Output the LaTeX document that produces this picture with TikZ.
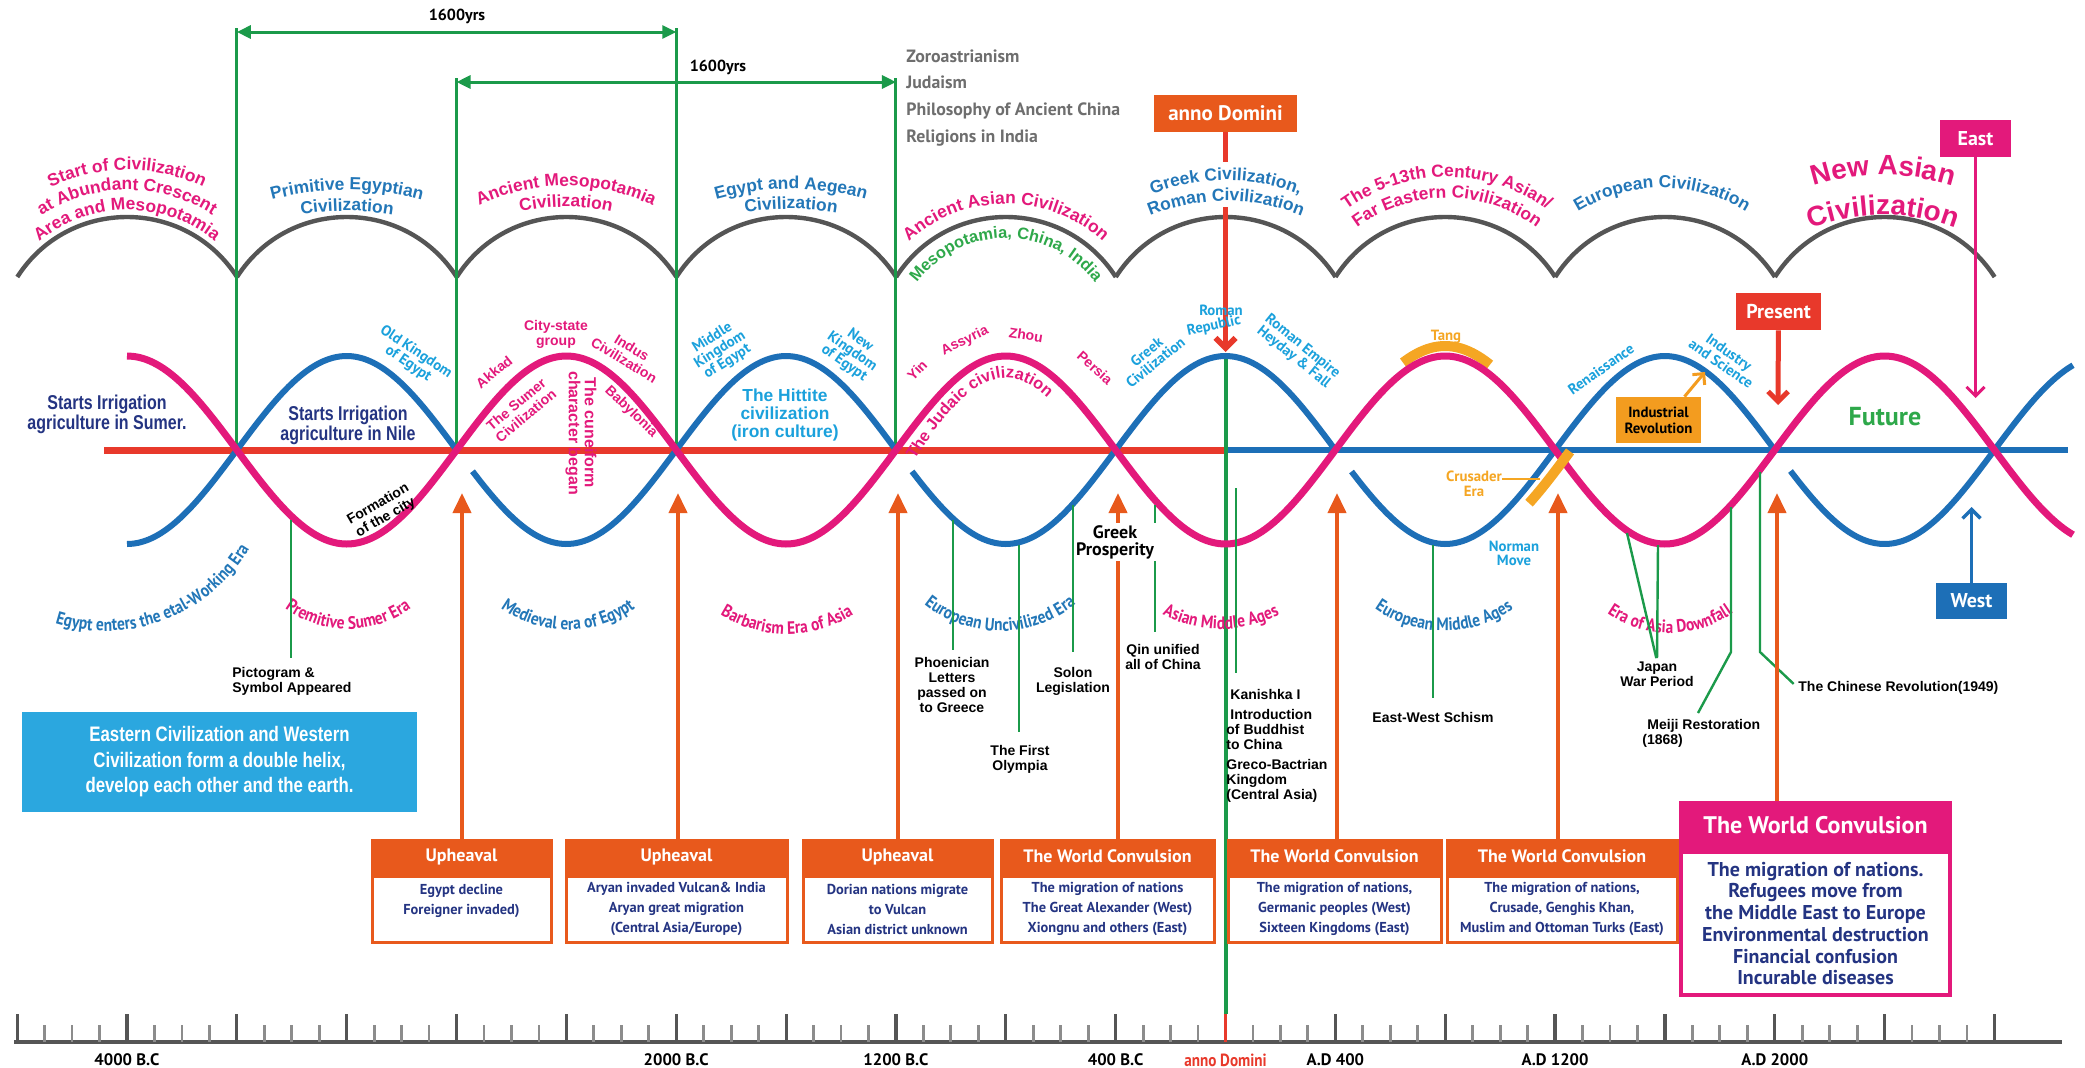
\documentclass[tikz,border=0pt]{standalone}
\usepackage{fontspec}
\setmainfont{Liberation Sans}
\newfontfamily\myr{PT Sans}
\newfontfamily\myrc[FakeStretch=0.86]{PT Sans}
\newfontfamily\narrow[FakeStretch=0.8]{Liberation Sans}
\usetikzlibrary{positioning, arrows.meta, decorations.text}

\definecolor{hpink}{HTML}{E3197B}
\definecolor{hblue}{HTML}{1D6FB7}
\definecolor{civblue}{HTML}{2377B8}
\definecolor{cyanlbl}{HTML}{1BA1DC}
\definecolor{axred}{HTML}{E8392B}
\definecolor{archgray}{HTML}{555555}
\definecolor{lgreen}{HTML}{1B9A4A}
\definecolor{mgreen}{HTML}{2EA84A}
\definecolor{navy}{HTML}{243482}
\definecolor{boxorange}{HTML}{E8591C}
\definecolor{tang}{HTML}{F5A623}
\definecolor{indorange}{HTML}{F39C1F}
\definecolor{sky}{HTML}{2BA7DF}
\definecolor{listgray}{HTML}{6E6E6E}
\definecolor{rulegray}{HTML}{555555}
\definecolor{ticklight}{HTML}{8C8C8C}

\newcommand{\civfont}{\fontsize{8.7}{10}\selectfont\bfseries}
\newcommand{\erafont}{\myrc\fontsize{9}{10}\selectfont\bfseries}

% curved label over an arch: colour, font, x, apex y, radius, text
\newcommand{\overarc}[6]{%
  \path[decorate, decoration={text along path, text align=center,
      text color=#1, text={|#2|#6}}]
    (#3,{#4-#5}) ++(170:#5) arc[start angle=170, end angle=10, radius=#5];}
% curved label below the helix
\newcommand{\underarc}[6]{%
  \path[decorate, decoration={text along path, text align=center,
      text color=#1, text={|#2|#6}}]
    (#3,{#4+#5}) ++(195:#5) arc[start angle=195, end angle=345, radius=#5];}

\begin{document}
\begin{tikzpicture}[x=0.5pt, y=0.5pt,
    declare function={hp(\q)=-450+94*cos((\q-127)*0.8193);
                      hb(\q)=-450-94*cos((\q-127)*0.8193);},
    arch/.style={draw=archgray, line width=2.2pt},
    spanline/.style={draw=lgreen, line width=1.5pt},
    spanarrow/.style={draw=lgreen, line width=1.5pt,
        {Triangle[width=6.5pt,length=7pt]}-{Triangle[width=6.5pt,length=7pt]}},
    yrs/.style={font=\myr\fontsize{8}{9}\selectfont\bfseries, inner sep=0pt},
    faith/.style={text=listgray, font=\myr\fontsize{8.9}{13.35}\selectfont\bfseries,
        align=left, inner sep=0pt},
    tagbox/.style={text=white, font=\myr\fontsize{10}{11}\selectfont\bfseries,
        minimum height=18.5pt, inner sep=0pt},
    adline/.style={draw=axred, line width=2.9pt},
    pointer/.style={-{Straight Barb[length=5pt,width=10pt]}},
    axisred/.style={draw=axred, line width=3.5pt},
    axisblue/.style={draw=hblue, line width=3pt},
    adgreen/.style={draw=lgreen, line width=2pt},
    pinkhelix/.style={draw=hpink, line width=3.5pt},
    bluehelix/.style={draw=hblue, line width=3pt},
    band/.style={draw=tang, line width=5pt},
    irrig/.style={text=navy, font=\narrow\fontsize{10}{10}\selectfont\bfseries,
        align=center, inner sep=0pt},
    hittite/.style={text=cyanlbl, font=\fontsize{8.7}{9}\selectfont\bfseries,
        align=center, inner sep=0pt},
    lblpink/.style={text=hpink, font=\fontsize{7}{7.5}\selectfont\bfseries,
        align=center, inner sep=0pt},
    lblcyan/.style={text=cyanlbl, font=\myr\fontsize{7.4}{7}\selectfont\bfseries,
        align=center, inner sep=0pt},
    lblorange/.style={text=tang, font=\myr\fontsize{7.4}{7.5}\selectfont\bfseries,
        align=center, inner sep=0pt},
    evlbl/.style={font=\fontsize{7}{7.5}\selectfont\bfseries, align=center, inner sep=0pt},
    evline/.style={draw=lgreen, line width=1.2pt},
    upheave/.style={draw=boxorange, line width=2pt, -{Triangle[width=9pt,length=10pt]}},
    hdbox/.style={fill=boxorange, draw=boxorange, line width=1.5pt, text=white,
        font=\myr\fontsize{9}{10}\selectfont\bfseries, minimum height=16.5pt, inner sep=0pt},
    bdbox/.style={draw=boxorange, fill=white, line width=1.5pt, text=navy, align=center,
        font=\myr\fontsize{7.2}{10}\selectfont\bfseries, minimum height=33pt, inner sep=0pt},
    hdpink/.style={fill=hpink, draw=hpink, line width=2pt, text=white,
        font=\myr\fontsize{12}{13}\selectfont\bfseries, minimum height=22.5pt, inner sep=0pt},
    bdpink/.style={draw=hpink, fill=white, line width=2pt, text=navy, align=center,
        font=\myr\fontsize{10}{10.85}\selectfont\bfseries, minimum height=71.5pt, inner sep=0pt},
    rulebase/.style={draw=rulegray, line width=2pt},
    majtick/.style={draw=rulegray, line width=1.6pt},
    mintick/.style={draw=ticklight, line width=1.4pt},
    yearlbl/.style={font=\myr\fontsize{8.3}{9}\selectfont\bfseries, inner sep=0pt}
  ]
  \fill[white] (0,0) rectangle (2085,-1067);
  \useasboundingbox (0,0) rectangle (2085,-1067);

  % Civilization arches
  \foreach \k in {0,...,8}
    \draw[arch] ({17.3+219.7*\k},-277) .. controls ({68.5+219.7*\k},-197)
      and ({185.5+219.7*\k},-197) .. ({237+219.7*\k},-277);

  % Helix crossings
  \foreach \k in {0,...,8}
    \coordinate (c\k) at ({236.85+219.7*\k},-450);

  % 1600 years spans
  \coordinate (gl1) at (236.85,-28);
  \coordinate (gl2) at (456.55,-78);
  \coordinate (gl3) at (676.25,-28);
  \coordinate (gl4) at (895.95,-78);
  \draw[spanline] (gl1) -- (c0);
  \draw[spanline] (gl2) -- (c1);
  \draw[spanline] (gl3) -- (c2);
  \draw[spanline] (gl4) -- (c3);
  \draw[spanarrow] ([yshift=-2pt]gl1) -- ([yshift=-2pt]gl3);
  \draw[spanarrow] ([yshift=-2pt]gl2) -- ([yshift=-2pt]gl4);
  \node[yrs] (span1) at (457,-16) {1600yrs};
  \node[yrs] (span2) at (718,-67) {1600yrs};
  \node[faith, anchor=north west] (faiths) at (906,-49)
    {Zoroastrianism\\Judaism\\Philosophy of Ancient China\\Religions in India};

  % anno Domini marker
  \node[tagbox, fill=boxorange, minimum width=71.5pt,
    font=\myr\fontsize{10.5}{11}\selectfont\bfseries] (adbox) at (1225.5,-113.5) {anno Domini};
  \coordinate (adgap1) at (1225.5,-162);
  \coordinate (adgap2) at (1225.5,-207);
  \coordinate (adpeak) at (1225.5,-352);
  \coordinate (adfoot) at (1225.5,-1014);
  \coordinate (adbase) at (1225.5,-1042);
  \draw[adline] (adbox) -- (adgap1);
  \draw[adline, pointer] (adgap2) -- (adpeak);

  % Main axis
  \coordinate (axstart) at (104,-450);
  \coordinate (adaxis) at (1225.5,-450);
  \coordinate (axend) at (2068,-450);
  \draw[axisred] (axstart) -- (adaxis);
  \draw[axisblue] (adaxis) -- (axend);
  \draw[adgreen] ([yshift=-2pt]adpeak) -- (adfoot);

  % Tang band
  \draw[band] plot[domain=1403:1490, samples=30, smooth] (\x,{hp(\x)+10});

  % Double helix
  \foreach \a/\b in {127/456.85, 472.5/895.95, 912/1335.65, 1351.5/1775.35, 1790.5/2073}
    \draw[bluehelix] plot[domain=\a:\b, samples=60, smooth] (\x,{hb(\x)});
  \draw[pinkhelix] plot[domain=127:2073, samples=320, smooth] (\x,{hp(\x)});

  % Crusader band
  \draw[band] plot[domain=1513:1554, samples=20, smooth] ({\x+16},{hb(\x)});
  \node[lblorange] (crusader) at (1474,-484) {Crusader\\Era};
  \coordinate (crusband) at (1540,-479);
  \draw[tang, line width=1.2pt] (crusader.east |- crusband) -- (crusband);

  % Civilization names
  \overarc{hpink}{\civfont}{127}{-170}{178}{Start of Civilization}
  \overarc{hpink}{\civfont}{127}{-190}{158}{at Abundant Crescent}
  \overarc{hpink}{\civfont}{127}{-210}{138}{Area and Mesopotamia}
  \overarc{civblue}{\civfont}{347}{-190}{290}{Primitive Egyptian}
  \overarc{civblue}{\civfont}{347}{-211}{280}{Civilization}
  \overarc{hpink}{\civfont}{566}{-186}{200}{Ancient Mesopotamia}
  \overarc{hpink}{\civfont}{566}{-207}{210}{Civilization}
  \overarc{civblue}{\civfont}{791}{-189}{280}{Egypt and Aegean}
  \overarc{civblue}{\civfont}{791}{-209}{280}{Civilization}
  \overarc{hpink}{\civfont}{1006}{-204}{144}{Ancient Asian Civilization}
  \overarc{mgreen}{\fontsize{8.2}{9}\selectfont\bfseries}{1006}{-238}{110}{Mesopotamia, China, India}
  \overarc{civblue}{\civfont}{1226}{-180}{195}{Greek Civilization,}
  \overarc{civblue}{\civfont}{1226}{-201}{200}{Roman Civilization}
  \overarc{hpink}{\civfont}{1447}{-177}{171}{The 5-13th Century Asian/}
  \overarc{hpink}{\civfont}{1447}{-198}{150}{Far Eastern Civilization}
  \overarc{civblue}{\civfont}{1662}{-188}{160}{European Civilization}
  \overarc{hpink}{\fontsize{14}{15}\selectfont\bfseries}{1883}{-175}{230}{New Asian}
  \overarc{hpink}{\fontsize{14}{15}\selectfont\bfseries}{1883}{-215}{200}{Civilization}

  % Labels along the helix
  \node[irrig] (irrsumer) at (107,-414) {Starts Irrigation\\agriculture in Sumer.};
  \node[irrig] (irrnile) at (348,-425) {Starts Irrigation\\agriculture in Nile};
  \node[lblcyan, rotate=-34] (oldk) at (412,-358) {Old Kingdom\\of Egypt};
  \node[evlbl, rotate=30] (formcity) at (382,-511) {Formation\\of the city};
  \node[lblpink, rotate=39] (akkad) at (494,-372) {Akkad};
  \node[lblpink] (citystate) at (556,-334) {City-state\\group};
  \node[lblpink, rotate=-31] (indus) at (628,-354) {Indus\\Civilization};
  \node[lblpink, rotate=40] (sumerciv) at (521,-410) {The Sumer\\Civilization};
  \node[lblpink, rotate=-90, font=\fontsize{8}{8}\selectfont\bfseries] (cunei) at (581,-433)
    {The cuneiform\\character began};
  \node[lblpink, rotate=-44] (babylon) at (631,-412) {Babylonia};
  \node[lblcyan, rotate=32] (midk) at (720,-350) {Middle\\Kingdom\\of Egypt};
  \node[lblcyan, rotate=-35] (newk) at (852,-352) {New\\Kingdom\\of Egypt};
  \node[hittite] (hittite) at (785,-415) {The Hittite\\civilization\\(iron culture)};
  \node[lblpink, rotate=45] (yin) at (917,-370) {Yin};
  \node[lblpink, rotate=26] (assyria) at (965,-341) {Assyria};
  \node[lblpink, rotate=-9] (zhou) at (1026,-335) {Zhou};
  \node[lblpink, rotate=-42] (persia) at (1095,-368) {Persia};
  \path[decorate, decoration={text along path, text align=left, text color=hpink,
      text={|\fontsize{8.2}{9}\selectfont\bfseries|The Judaic civilization}}]
    (915,-460) .. controls (945,-412) and (975,-378) .. (1006,-378)
      .. controls (1030,-378) and (1055,-400) .. (1074,-432);
  \node[lblcyan, rotate=39] (greekciv) at (1151,-357) {Greek\\Civilization};
  \node[lblcyan] (roman) at (1221,-310) {Roman};
  \node[lblcyan, rotate=12] (republic) at (1214,-326) {Republic};
  \node[lblcyan, rotate=-39] (empire) at (1298,-352) {Roman Empire\\Heyday \& Fall};
  \node[lblorange] (tanglbl) at (1446,-337) {Tang};
  \node[lblcyan] (norman) at (1514,-553) {Norman\\Move};
  \node[lblcyan, rotate=35] (renais) at (1601,-369) {Renaissance};
  \node[lblcyan, rotate=-35] (industry) at (1725,-358) {Industry\\and Science};

  % Eras below the helix
  \path[decorate, decoration={text along path, text align=center, text color=civblue,
      text={|\erafont|Egypt enters the etal-Working Era}}]
    (105,-463) ++(228:168) arc[start angle=228, end angle=354, radius=168];
  \underarc{hpink}{\erafont}{348}{-629}{108}{Premitive Sumer Era}
  \underarc{civblue}{\erafont}{568}{-630}{114}{Medieval era of Egypt}
  \underarc{hpink}{\erafont}{787}{-634}{126}{Barbarism Era of Asia}
  \underarc{civblue}{\erafont}{1000}{-631}{121}{European Uncivilized Era}
  \underarc{hpink}{\erafont}{1221}{-629}{129}{Asian Middle Ages}
  \underarc{civblue}{\erafont}{1444}{-631}{120}{European Middle Ages}
  \underarc{hpink}{\erafont}{1670}{-633}{110}{Era of Asia Downfall}

  % Events
  \coordinate (picto-top) at (291,-520);
  \coordinate (phoe-top) at (953,-520);
  \coordinate (olym-top) at (1019,-545);
  \coordinate (solon-top) at (1073,-505);
  \coordinate (qin-top) at (1155,-505);
  \coordinate (kan-top) at (1236,-488);
  \coordinate (schism-top) at (1433,-545);
  \coordinate (japan-a) at (1627,-533);
  \coordinate (japan-b) at (1658,-545);
  \coordinate (meiji-top) at (1731,-507);
  \coordinate (meiji-bend) at (1731,-652);
  \coordinate (meiji-end) at (1698,-713);
  \coordinate (chrev-top) at (1760,-472);
  \coordinate (chrev-bend) at (1760,-652);
  \node[evlbl, align=left, anchor=north west] (picto) at (232,-667) {Pictogram \&\\Symbol Appeared};
  \node[evlbl, anchor=north] (phoe) at (952,-657) {Phoenician\\Letters\\passed on\\to Greece};
  \node[evlbl, anchor=north] (olym) at (1020,-745) {The First\\Olympia};
  \node[evlbl, anchor=north] (solon) at (1073,-667) {Solon\\Legislation};
  \node[evlbl, anchor=north] (qin) at (1163,-644) {Qin unified\\all of China};
  \node[evlbl, align=left, anchor=north west] (kan) at (1226,-689)
    {\hspace{2pt}Kanishka I\\[2.5pt]\hspace{2pt}Introduction\\of Buddhist\\to China\\[2.5pt]Greco-Bactrian\\Kingdom\\(Central Asia)};
  \node[evlbl, anchor=north] (schism) at (1433,-712) {East-West Schism};
  \node[evlbl, anchor=north] (japan) at (1657,-661) {Japan\\War Period};
  \node[evlbl, align=left, anchor=north west] (meiji) at (1642,-719) {\hspace{2.5pt}Meiji Restoration\\(1868)};
  \node[evlbl, anchor=west] (chrev) at (1798,-688) {The Chinese Revolution(1949)};
  \draw[evline, shorten >=4.5pt] (picto-top) -- (picto-top |- picto.north);
  \draw[evline, shorten >=3.5pt] (phoe-top) -- (phoe-top |- phoe.north);
  \draw[evline, shorten >=6.5pt] (olym-top) -- (olym-top |- olym.north);
  \draw[evline, shorten >=7.5pt] (solon-top) -- (solon-top |- solon.north);
  \draw[evline, shorten >=6pt] (qin-top) -- (qin-top |- qin.north);
  \draw[evline, shorten >=8pt] (kan-top) -- (kan-top |- kan.north);
  \draw[evline, shorten >=7pt] (schism-top) -- (schism.north);
  \draw[evline, shorten >=1.5pt] (japan-a) -- (japan.north);
  \draw[evline, shorten >=1.5pt] (japan-b) -- (japan.north);
  \draw[evline] (meiji-top) -- (meiji-bend) -- (meiji-end);
  \draw[evline, shorten >=3pt] (chrev-top) -- (chrev-bend) -- (chrev.west);

  % Upheavals and convulsions
  \coordinate (t1) at (462,-493);
  \coordinate (t2) at (678,-493);
  \coordinate (t3) at (898,-493);
  \coordinate (t4) at (1118,-493);
  \coordinate (t5) at (1337,-493);
  \coordinate (t6) at (1558,-493);
  \coordinate (t7) at (1777,-493);
  \node[hdbox, minimum width=89.5pt] (hd1) at (461.5,-856.5) {Upheaval};
  \node[bdbox, minimum width=89.5pt, below=0pt of hd1] (bd1) {Egypt decline\\Foreigner invaded)\\~};
  \node[hdbox, minimum width=110.5pt] (hd2) at (676.5,-856.5) {Upheaval};
  \node[bdbox, minimum width=110.5pt, below=0pt of hd2] (bd2)
    {Aryan invaded Vulcan\& India\\Aryan great migration\\(Central Asia/Europe)};
  \node[hdbox, minimum width=94.5pt] (hd3) at (897.5,-856.5) {Upheaval};
  \node[bdbox, minimum width=94.5pt, below=0pt of hd3] (bd3)
    {Dorian nations migrate\\to Vulcan\\Asian district unknown};
  \node[hdbox, minimum width=106.5pt] (hd4) at (1107.5,-856.5) {The World Convulsion};
  \node[bdbox, minimum width=106.5pt, below=0pt of hd4] (bd4)
    {The migration of nations\\The Great Alexander (West)\\Xiongnu and others (East)};
  \node[hdbox, minimum width=106.5pt] (hd5) at (1334.5,-856.5) {The World Convulsion};
  \node[bdbox, minimum width=106.5pt, below=0pt of hd5] (bd5)
    {The migration of nations,\\Germanic peoples (West)\\Sixteen Kingdoms (East)};
  \node[hdbox, minimum width=115pt] (hd6) at (1562,-856.5) {The World Convulsion};
  \node[bdbox, minimum width=115pt, below=0pt of hd6] (bd6)
    {The migration of nations,\\Crusade, Genghis Khan,\\Muslim and Ottoman Turks (East)};
  \node[hdpink, minimum width=134.5pt] (hd7) at (1815.5,-825.5) {The World Convulsion};
  \node[bdpink, minimum width=134.5pt, below=0pt of hd7] (bd7)
    {The migration of nations.\\Refugees move from\\the Middle East to Europe\\Environmental destruction\\Financial confusion\\Incurable diseases};
  \foreach \i in {1,...,7}
    \draw[upheave] (t\i |- hd\i.north) -- (t\i);
  \node[fill=white, inner sep=1pt, align=center,
    font=\myr\fontsize{9}{8.5}\selectfont\bfseries] (prosper) at (1115,-542) {Greek\\Prosperity};

  % Present, future, east and west
  \node[fill=indorange, inner sep=0pt, minimum width=42.5pt, minimum height=23pt, align=center,
    font=\myr\fontsize{7.4}{8}\selectfont\bfseries] (indrev) at (1658.5,-420) {Industrial\\Revolution};
  \coordinate (indtip) at (1705,-372);
  \draw[indorange, line width=1.5pt, -{Straight Barb[length=4pt,width=8pt]}] (indrev.42) -- (indtip);
  \node[tagbox, fill=axred, minimum width=42.5pt] (present) at (1778.5,-311.5) {Present};
  \coordinate (prestip) at (1778,-405);
  \draw[adline, line width=2.5pt, pointer] (present) -- (prestip);
  \node[text=mgreen, font=\myr\fontsize{13}{14}\selectfont\bfseries] (future) at (1885,-417) {Future};
  \node[tagbox, fill=hpink, minimum width=35.5pt] (east) at (1975.5,-138.5) {East};
  \coordinate (easttip) at (1975.5,-398);
  \draw[hpink, line width=1.5pt, -{Straight Barb[length=4.5pt,width=9pt]}] (east) -- (easttip);
  \node[tagbox, fill=hblue, minimum width=35.5pt, minimum height=18pt] (west) at (1971.5,-601) {West};
  \coordinate (westtip) at (1971.5,-507);
  \draw[hblue, line width=1.7pt, -{Straight Barb[length=4.5pt,width=9pt]}] (west) -- (westtip);

  % Summary box
  \node[fill=sky, text=white, inner sep=0pt, minimum width=197.5pt, minimum height=50pt,
    align=center, font=\narrow\fontsize{10.5}{12.75}\selectfont\bfseries] (summary) at (219.5,-762)
    {Eastern Civilization and Western\\Civilization form a double helix,\\develop each other and the earth.};

  % Time ruler
  \draw[rulebase] (14,-1042) -- (2062,-1042);
  \foreach \n in {-2,...,15}
    \foreach \s in {1,2,3}
      \draw[mintick] ({236.85+109.85*\n+27.46*\s},-1042) -- ++(0,17);
  \foreach \n in {-2,...,16}
    \draw[majtick] ({236.85+109.85*\n},-1042) -- ++(0,28);
  \draw[axred, line width=1.8pt] (adbase) -- (adfoot);
  \foreach \n/\lbl in {-1/4000 B.C, 4/2000 B.C, 6/1200 B.C, 8/400 B.C,
                       10/A.D 400, 12/A.D 1200, 14/A.D 2000}
    \node[yearlbl] (yr\n) at ({236.85+109.85*\n},-1060) {\lbl};
  \node[yearlbl, text=axred, font=\myrc\fontsize{8.8}{9}\selectfont\bfseries] (yrad) at (1225.5,-1060) {anno Domini};
\end{tikzpicture}
\end{document}
